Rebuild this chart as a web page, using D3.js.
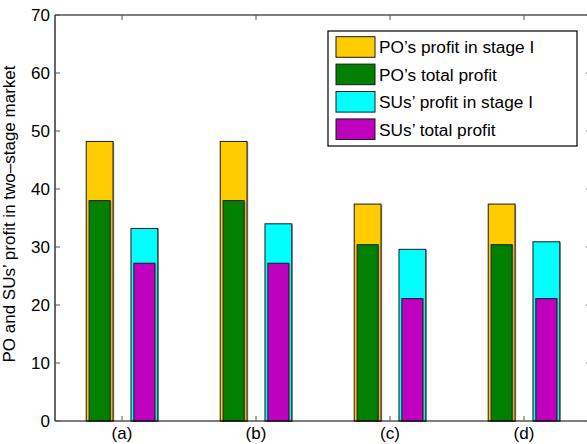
<!DOCTYPE html>
<html>
<head>
<meta charset="utf-8">
<script src="https://cdn.jsdelivr.net/npm/d3@7"></script>
<style>
  html, body { margin: 0; padding: 0; background: #fff; }
  svg { display: block; font-family: "Liberation Sans", Arial, sans-serif; }
</style>
</head>
<body>
<svg id="chart" width="587" height="444"></svg>
<script>
// Scenario labels along the x axis
const categories = ["(a)", "(b)", "(c)", "(d)"];

// Primary operator (PO) profits
const poStageOne = [48.2, 48.2, 37.4, 37.4];
const poTotal    = [38.0, 38.0, 30.4, 30.4];

// Secondary users (SUs) profits
const suStageOne = [33.2, 34.0, 29.6, 30.9];
const suTotal    = [27.2, 27.2, 21.1, 21.1];

const yTicks = [0, 10, 20, 30, 40, 50, 60, 70];

const legendItems = [
  { label: "PO\u2019s profit in stage I", color: "#ffcc00" },
  { label: "PO\u2019s total profit",      color: "#007f00" },
  { label: "SUs\u2019 profit in stage I", color: "#00ffff" },
  { label: "SUs\u2019 total profit",      color: "#bf00bf" }
];

const svg = d3.select("#chart");
const plotL = 55, plotR = 591, plotT = 15, plotB = 421;

const x = d3.scaleLinear().domain([0.5, 4.5]).range([plotL, plotR]);
const y = d3.scaleLinear().domain([0, 70]).range([plotB, plotT]);

const unit = x(1) - x(0);
const offset = 0.167 * unit;
const outerW = 0.2 * unit;
const innerW = 0.157 * unit;

function drawBars(values, dx, w, color) {
  const g = svg.append("g");
  const data = values.map((v, i) => ({ v, i }));
  // soft grey shadow on the right edge
  g.selectAll("rect.sh").data(data).join("rect")
    .attr("x", d => x(d.i + 1) + dx - w / 2 + 1.2)
    .attr("y", d => y(d.v) + 0.8)
    .attr("width", w)
    .attr("height", d => y(0) - y(d.v))
    .attr("fill", "#8a8a8a")
    .attr("opacity", 0.8);
  g.selectAll("rect.bar").data(data).join("rect")
    .attr("x", d => x(d.i + 1) + dx - w / 2)
    .attr("y", d => y(d.v))
    .attr("width", w)
    .attr("height", d => y(0) - y(d.v))
    .attr("fill", color)
    .attr("stroke", "#1a1a1a")
    .attr("stroke-width", 1);
}

drawBars(poStageOne, -offset, outerW, legendItems[0].color);
drawBars(poTotal,    -offset, innerW, legendItems[1].color);
drawBars(suStageOne,  offset, outerW, legendItems[2].color);
drawBars(suTotal,     offset, innerW, legendItems[3].color);

// Axes box lines
const axis = svg.append("g").attr("stroke", "#000").attr("stroke-width", 1.2).attr("fill", "none");
axis.append("line").attr("x1", plotL).attr("x2", plotR).attr("y1", plotB).attr("y2", plotB);
axis.append("line").attr("x1", plotL).attr("x2", plotR).attr("y1", plotT).attr("y2", plotT);
axis.append("line").attr("x1", plotL).attr("x2", plotL).attr("y1", plotT).attr("y2", plotB);
axis.append("line").attr("x1", plotR).attr("x2", plotR).attr("y1", plotT).attr("y2", plotB);

// Inward ticks on all four sides
const tickLen = 5;
const tg = svg.append("g").attr("stroke", "#555").attr("stroke-width", 1);
yTicks.forEach(t => {
  tg.append("line").attr("x1", plotL).attr("x2", plotL + tickLen).attr("y1", y(t)).attr("y2", y(t));
  tg.append("line").attr("x1", plotR).attr("x2", plotR - tickLen).attr("y1", y(t)).attr("y2", y(t));
});
categories.forEach((c, i) => {
  tg.append("line").attr("x1", x(i + 1)).attr("x2", x(i + 1)).attr("y1", plotB).attr("y2", plotB - tickLen);
  tg.append("line").attr("x1", x(i + 1)).attr("x2", x(i + 1)).attr("y1", plotT).attr("y2", plotT + tickLen);
});

// Tick labels
svg.append("g").selectAll("text").data(yTicks).join("text")
  .attr("x", plotL - 5)
  .attr("y", d => y(d) + 6)
  .attr("text-anchor", "end")
  .attr("font-size", 17)
  .text(d => d);

svg.append("g").selectAll("text").data(categories).join("text")
  .attr("x", (d, i) => x(i + 1))
  .attr("y", 439)
  .attr("text-anchor", "middle")
  .attr("font-size", 17)
  .text(d => d);

// Y axis title
svg.append("text")
  .attr("transform", `translate(15,${(plotT + plotB) / 2 - 4}) rotate(-90)`)
  .attr("text-anchor", "middle")
  .attr("font-size", 17)
  .text("PO and SUs\u2019 profit in two\u2013stage market");

// Legend
const lg = svg.append("g");
lg.append("rect")
  .attr("x", 328).attr("y", 31).attr("width", 249).attr("height", 115)
  .attr("fill", "#fff").attr("stroke", "#000").attr("stroke-width", 1.2);
legendItems.forEach((it, i) => {
  const cy = 47 + i * 27.4;
  lg.append("rect")
    .attr("x", 336).attr("y", cy - 10.3).attr("width", 39).attr("height", 20.6)
    .attr("fill", it.color).attr("stroke", "#1a1a1a").attr("stroke-width", 1);
  lg.append("text")
    .attr("x", 379).attr("y", cy + 6.3)
    .attr("font-size", 17.3)
    .text(it.label);
});
</script>
</body>
</html>
